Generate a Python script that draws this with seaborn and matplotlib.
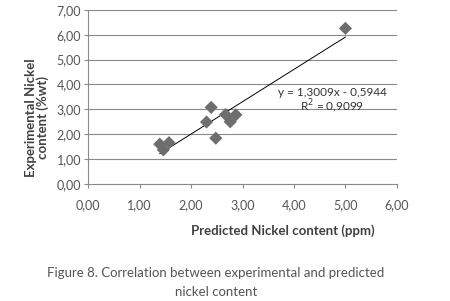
import numpy as np
import pandas as pd
import seaborn as sns
import matplotlib.pyplot as plt
from matplotlib.ticker import FuncFormatter

# values
predicted = [1.39, 1.46, 1.57, 2.30, 2.39, 2.48, 2.67, 2.76, 2.87, 5.00]
experimental = [1.60, 1.37, 1.66, 2.49, 3.08, 1.84, 2.79, 2.50, 2.78, 6.26]
slope = 1.3009
intercept = -0.5944
r2 = 0.9099

x_ticks = [0, 1, 2, 3, 4, 5, 6]
y_ticks = [0, 1, 2, 3, 4, 5, 6, 7]

sns.set_theme(style='white')
plt.rcParams['font.family'] = ['Lato', 'DejaVu Sans']

df = pd.DataFrame({'predicted': predicted, 'experimental': experimental})
x_fit = np.array([min(predicted), max(predicted)])
fit_df = pd.DataFrame({'x': x_fit, 'y': slope * x_fit + intercept})

fig = plt.figure(figsize=(4.5, 3.01), dpi=100)
ax = fig.add_axes([0.196, 0.389, 0.686, 0.578])

grid_col = '#8a8a8a'
for yv in y_ticks[1:]:
    ax.axhline(yv, color=grid_col, lw=0.8, zorder=0)

sns.lineplot(data=fit_df, x='x', y='y', ax=ax, color='black', lw=0.7, zorder=2)
sns.scatterplot(data=df, x='predicted', y='experimental', ax=ax, marker='D',
                s=45, color='#6e6e6e', edgecolor='none', zorder=3)

ax.set_xlim(0, 6)
ax.set_ylim(0, 7)
ax.set_xticks(x_ticks)
ax.set_yticks(y_ticks)
fmt = FuncFormatter(lambda v, p: f'{v:.2f}'.replace('.', ','))
ax.xaxis.set_major_formatter(fmt)
ax.yaxis.set_major_formatter(fmt)
ax.tick_params(axis='both', labelsize=9, labelcolor='#555555', color=grid_col,
               length=3, width=0.8, direction='out', bottom=True, left=True)
ax.tick_params(axis='x', pad=8)
ax.tick_params(axis='y', pad=2)

for side in ['top', 'right']:
    ax.spines[side].set_visible(False)
for side in ['left', 'bottom']:
    ax.spines[side].set_color(grid_col)
    ax.spines[side].set_linewidth(0.8)

ax.set_xlabel('Predicted Nickel content (ppm)', fontsize=9.5, fontweight='bold', color='#404040')
ax.xaxis.set_label_coords(0.631, -0.23)
ax.set_ylabel('')
fig.text(0.082, 0.608, 'Experimental Nickel\ncontent (%wt)', rotation=90, ha='center', va='center',
         fontsize=9.5, fontweight='bold', color='#404040', linespacing=1.0)

ax.text(4.74, 3.67, f'y = {slope:.4f}x - {abs(intercept):.4f}'.replace('.', ','),
        ha='center', va='center', fontsize=8.5, color='#333333')
ax.text(4.74, 3.14, f'R$^2$ = {r2:.4f}'.replace('.', ','),
        ha='center', va='center', fontsize=8.5, color='#333333')

fig.text(0.48, 1 - 273 / 301, 'Figure 8. Correlation between experimental and predicted',
         ha='center', va='center', fontsize=9.5, color='#555555')
fig.text(0.48, 1 - 292 / 301, 'nickel content',
         ha='center', va='center', fontsize=9.5, color='#555555')

fig.savefig('out.png', dpi=100)
